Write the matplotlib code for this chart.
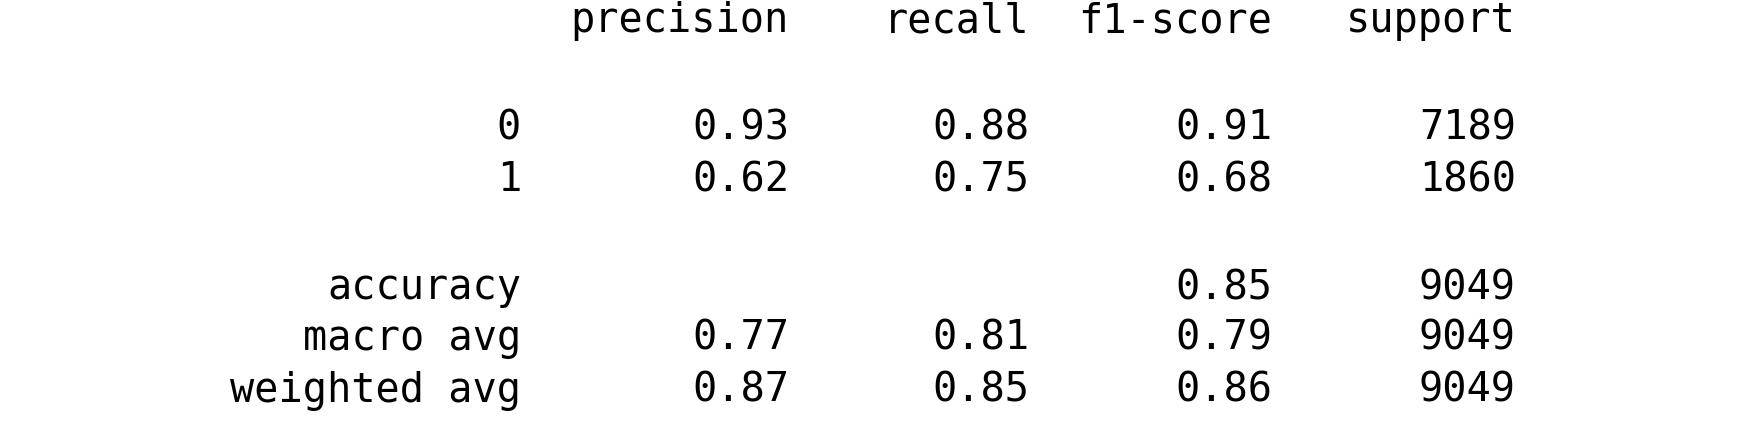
import matplotlib.pyplot as plt

columns = ["precision", "recall", "f1-score", "support"]
row_labels = ["0", "1", "accuracy", "macro avg", "weighted avg"]
precision = ["0.93", "0.62", "", "0.77", "0.87"]
recall = ["0.88", "0.75", "", "0.81", "0.85"]
f1_score = ["0.91", "0.68", "0.85", "0.79", "0.86"]
support = ["7189", "1860", "9049", "9049", "9049"]

W, H = 1747, 425
fig = plt.figure(figsize=(W / 100, H / 100), dpi=100)
ax = fig.add_axes([0, 0, 1, 1])
ax.set_xlim(0, W)
ax.set_ylim(H, 0)
ax.axis("off")

font = dict(family="DejaVu Sans Mono", fontsize=29, color="black", ha="right", va="center")
col_x = [789, 1029, 1272, 1516]
label_x = 521
header_y = 21
row_y = [128, 180, 288, 339, 391]

for x, c in zip(col_x, columns):
    ax.text(x, header_y, c, **font)

table = [precision, recall, f1_score, support]
for i, (y, lab) in enumerate(zip(row_y, row_labels)):
    ax.text(label_x, y, lab, **font)
    for x, col in zip(col_x, table):
        if col[i]:
            ax.text(x, y, col[i], **font)

fig.savefig("out.png", dpi=100)
